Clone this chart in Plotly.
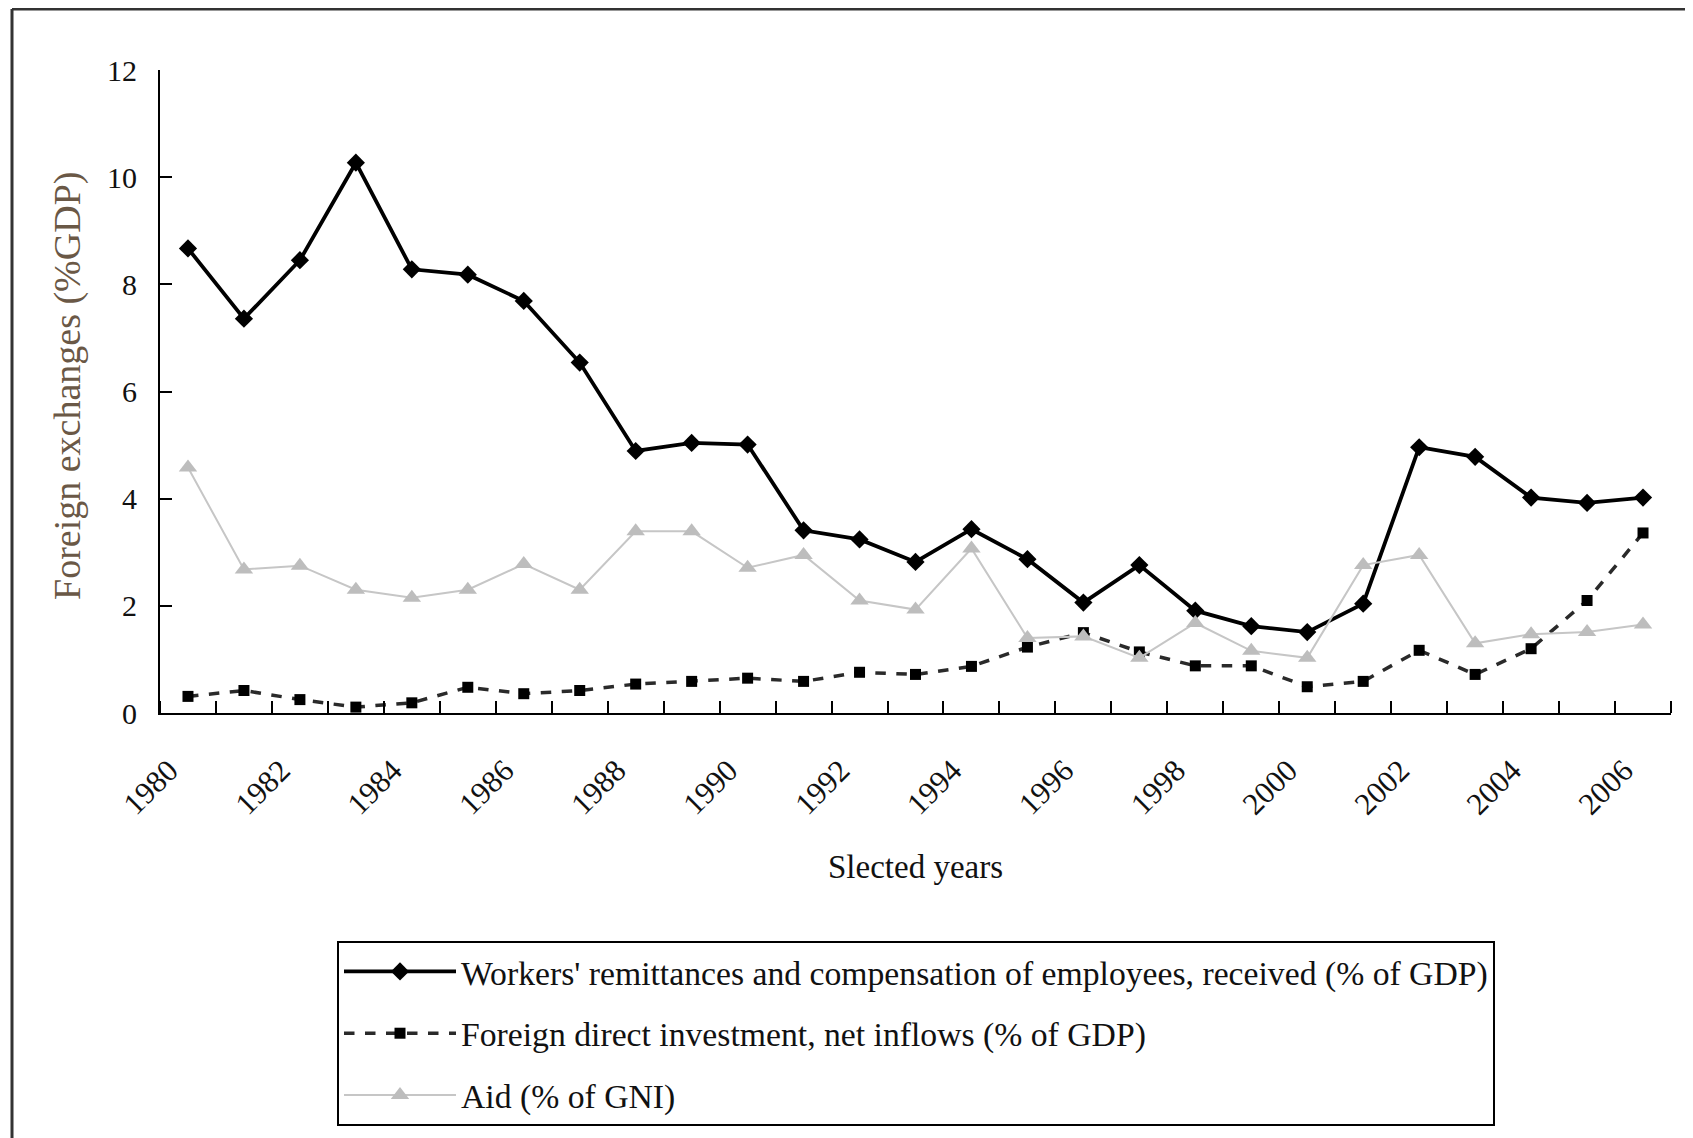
import plotly.graph_objects as go

years = list(range(1980, 2007))
remittances = [8.67, 7.36, 8.45, 10.27, 8.28, 8.18, 7.69, 6.54, 4.89, 5.04, 5.01, 3.41, 3.24, 2.82,
               3.43, 2.87, 2.06, 2.76, 1.91, 1.62, 1.51, 2.04, 4.96, 4.78, 4.02, 3.92, 4.02]
fdi = [0.31, 0.42, 0.25, 0.11, 0.19, 0.48, 0.36, 0.42, 0.54, 0.59, 0.65, 0.59, 0.76, 0.72,
       0.87, 1.23, 1.50, 1.14, 0.88, 0.88, 0.49, 0.59, 1.17, 0.72, 1.20, 2.10, 3.36]
aid = [4.58, 2.68, 2.75, 2.30, 2.15, 2.30, 2.78, 2.30, 3.39, 3.39, 2.71, 2.95, 2.10, 1.93,
       3.07, 1.40, 1.43, 1.03, 1.68, 1.16, 1.03, 2.76, 2.95, 1.30, 1.47, 1.51, 1.65]

label_years = years[::2]
label_text = [str(y) for y in label_years]
boundaries = [y - 0.5 for y in years] + [years[-1] + 0.5]

names = [
    "Workers' remittances and compensation of employees, received (% of GDP)",
    "Foreign direct investment, net inflows (% of GDP)",
    "Aid (% of GNI)",
]

FONT = "Liberation Serif, Times New Roman, serif"

fig = go.Figure()
fig.add_trace(go.Scatter(
    x=years, y=remittances, name=names[0], legendgroup="a", mode="lines+markers",
    line=dict(color="#000000", width=3.8),
    marker=dict(symbol="diamond", size=14, color="#000000"),
))
fig.add_trace(go.Scatter(
    x=years, y=fdi, name=names[1], legendgroup="b", mode="lines+markers",
    line=dict(color="#2a2a2a", width=3.5, dash="dash"),
    marker=dict(symbol="square", size=11, color="#000000"),
))
fig.add_trace(go.Scatter(
    x=years, y=aid, name=names[2], legendgroup="c", mode="lines+markers",
    line=dict(color="#c6c6c6", width=2),
    marker=dict(symbol="triangle-up", size=16, color="#bdbdbd"),
))

OFF = 8  # page body margin
W, H = 1693 - OFF, 1138 - OFF
# target plot area in page pixels: x 160..1671, y 70..713
L, T = 160 - OFF, 70 - OFF
R = W - (1671 - OFF)
B = H - (713 - OFF)
pw, ph = W - L - R, H - T - B

def px_x(px):
    return (px - OFF - L) / pw

def px_y(py):
    return (H - B - (py - OFF)) / ph

fig.update_layout(
    width=W, height=H,
    margin=dict(l=L, r=R, t=T, b=B, pad=0),
    paper_bgcolor="white", plot_bgcolor="white",
    font=dict(family=FONT, color="#111111", size=30),
    showlegend=True,
    legend=dict(
        x=px_x(337), y=px_y(941), xanchor="left", yanchor="top",
        bordercolor="#000000", borderwidth=2, bgcolor="white",
        font=dict(family=FONT, size=33.7, color="#111111"),
        itemwidth=112, traceorder="grouped", tracegroupgap=15,
    ),
    xaxis=dict(
        range=[years[0] - 0.5, years[-1] + 0.5],
        tickmode="array", tickvals=label_years, ticktext=label_text,
        tickangle=-45, ticks="", showgrid=False, zeroline=False,
        showline=True, linecolor="#000000", linewidth=2,
        tickfont=dict(family=FONT, size=31, color="#111111"),
        ticklabelstandoff=25, ticklabelshift=-19,
        minor=dict(tickmode="array", tickvals=boundaries, ticks="inside",
                   ticklen=12, tickwidth=2, tickcolor="#000000", showgrid=False),
    ),
    yaxis=dict(
        range=[0, 12], dtick=2, tick0=0,
        ticks="inside", ticklen=12, tickwidth=2, tickcolor="#000000",
        showgrid=False, zeroline=False,
        showline=True, linecolor="#000000", linewidth=2,
        tickfont=dict(family=FONT, size=30, color="#111111"),
        ticklabelstandoff=15,
    ),
    annotations=[
        dict(text="Slected years", xref="paper", yref="paper",
             x=0.5, y=px_y(867), xanchor="center", yanchor="middle",
             showarrow=False, font=dict(family=FONT, size=33, color="#111111")),
        dict(text="Foreign exchanges (%GDP)", xref="paper", yref="paper",
             x=px_x(67), y=px_y(386), xanchor="center", yanchor="middle",
             textangle=-90, showarrow=False,
             font=dict(family=FONT, size=38, color="#6a5846")),
    ],
    shapes=[
        dict(type="line", xref="paper", yref="paper",
             x0=px_x(12), x1=px_x(1700),
             y0=px_y(9), y1=px_y(9),
             line=dict(color="#333333", width=3)),
        dict(type="line", xref="paper", yref="paper",
             x0=px_x(12), x1=px_x(12),
             y0=px_y(9), y1=px_y(1145),
             line=dict(color="#333333", width=3)),
    ],
)

fig.write_html("out.html", config={"displayModeBar": False})
